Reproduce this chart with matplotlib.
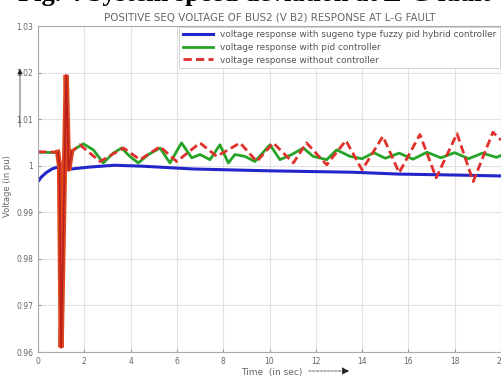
import matplotlib.pyplot as plt

# values
t_blue = [0, 0.15, 0.35, 0.6, 0.9, 1.05, 1.2, 1.45, 2.2, 3.3, 4.5, 6.7, 10, 13.6, 15.6, 18, 20]
v_blue = [0.9966, 0.9976, 0.9985, 0.9993, 0.9998, 0.9997, 0.9993, 0.9993, 0.9997, 1.0001,
          0.9999, 0.9993, 0.9989, 0.9986, 0.9982, 0.9980, 0.9978]

t_green = [0, 0.9, 1.0, 1.18, 1.3, 1.53, 1.96, 2.39, 2.82, 3.25, 3.61, 3.97, 4.33, 4.77, 5.27,
           5.7, 6.2, 6.64, 7.0, 7.43, 7.86, 8.22, 8.51, 8.94, 9.37, 10.02, 10.45, 10.96, 11.46,
           11.89, 12.47, 12.9, 13.48, 14.0, 14.5, 15.0, 15.6, 16.2, 16.8, 17.4, 18.0, 18.6,
           19.2, 19.8, 20]
v_green = [1.0029, 1.0028, 0.978, 1.012, 1.001, 1.0034, 1.0047, 1.0034, 1.0006, 1.0027, 1.0038,
           1.0020, 1.0006, 1.0024, 1.0038, 1.0006, 1.0049, 1.0017, 1.0024, 1.0013, 1.0045,
           1.0006, 1.0024, 1.0020, 1.0009, 1.0045, 1.0013, 1.0024, 1.0038, 1.0020, 1.0013,
           1.0034, 1.0020, 1.0015, 1.0028, 1.0016, 1.0027, 1.0014, 1.0029, 1.0017, 1.0028,
           1.0015, 1.0027, 1.0018, 1.0022]

t_red = [0, 0.85, 0.93, 1.0, 1.22, 1.32, 1.45, 1.81, 2.68, 3.69, 4.41, 5.27, 5.99, 7.0, 7.72,
         8.73, 9.45, 10.16, 11.03, 11.6, 12.47, 13.3, 14.0, 14.9, 15.6, 16.5, 17.2, 18.1,
         18.8, 19.65, 20]
v_red = [1.0030, 1.0029, 1.0000, 0.9610, 1.0195, 0.9990, 1.0030, 1.0045, 1.0009, 1.0038,
         1.0013, 1.0041, 1.0009, 1.0049, 1.0020, 1.0049, 1.0009, 1.0049, 1.0006, 1.0049,
         1.0002, 1.0054, 0.9991, 1.0063, 0.9985, 1.0067, 0.9974, 1.0069, 0.9966, 1.0072,
         1.0055]
fault_idx = (1, 7)  # part of the red series drawn solid (dense fault oscillation)

labels = ['voltage response with sugeno type fuzzy pid hybrid controller',
          'voltage response with pid controller',
          'voltage response without controller']
x_ticks = list(range(0, 21, 2))
y_ticks = [0.96, 0.97, 0.98, 0.99, 1.0, 1.01, 1.02, 1.03]
y_ticklabels = ['0.96', '0.97', '0.98', '0.99', '1', '1.01', '1.02', '1.03']

W, H = 502, 382
fig = plt.figure(figsize=(W / 100, H / 100), dpi=100)
ax = fig.add_axes([38 / W, 1 - 352 / H, (501 - 38) / W, (352 - 26) / H])

red = '#e0302c'
ax.plot(t_blue, v_blue, color='#2326c8', lw=2.2, label=labels[0])
ax.plot(t_green, v_green, color='#27a327', lw=2, label=labels[1])
ax.plot(t_red, v_red, color=red, lw=2, ls=(0, (3, 1.5)), label=labels[2])
a, b = fault_idx
ax.plot(t_red[a:b], v_red[a:b], color='#e0461e', lw=3.8, solid_joinstyle='miter')
ax.plot(t_red[a:b], v_red[a:b], color='#b81f1f', lw=1.2)

ax.set_xlim(0, 20)
ax.set_ylim(0.96, 1.03)
ax.set_xticks(x_ticks)
ax.set_yticks(y_ticks)
ax.set_yticklabels(y_ticklabels)
ax.grid(True, color='#e2e2e2', lw=0.8)
ax.tick_params(labelsize=5.5, labelcolor='#666666', color='#999999', direction='in', length=2)
for s in ax.spines.values():
    s.set_color('#aaaaaa')
    s.set_linewidth(0.8)

ax.set_title('POSITIVE SEQ VOLTAGE OF BUS2 (V B2) RESPONSE AT L-G FAULT',
             fontsize=7.4, color='#666666', pad=4)

leg = ax.legend(loc='upper right', fontsize=6.4, handlelength=3.4, handletextpad=0.8,
                labelspacing=0.4, borderaxespad=0.1, fancybox=False, framealpha=1,
                edgecolor='#cccccc', labelcolor='#555555')
leg.get_frame().set_linewidth(0.6)

# axis labels with arrows, in figure pixels
fig.text(8 / W, 1 - 186 / H, 'Voltage (in pu)', rotation=90, fontsize=6,
         color='#666666', ha='center', va='center')
ax.annotate('', xy=(20 / W, 1 - 66 / H), xytext=(20 / W, 1 - 130 / H),
            xycoords='figure fraction', textcoords='figure fraction',
            arrowprops=dict(arrowstyle='-|>', color='#222222', lw=0.5, mutation_scale=8))
fig.text(272 / W, 1 - 372 / H, 'Time  (in sec)', fontsize=6.5, color='#666666',
         ha='center', va='center')
ax.annotate('', xy=(352 / W, 1 - 371 / H), xytext=(306 / W, 1 - 371 / H),
            xycoords='figure fraction', textcoords='figure fraction',
            arrowprops=dict(arrowstyle='-|>', color='#222222', lw=0.5, ls='--',
                            mutation_scale=11))

# caption of the page, cut off at the top edge
fig.text(18 / W, 1 - 1 / H, 'Fig. 4 System speed deviation at L-G fault',
         fontsize=19, weight='bold', family='Liberation Serif', ha='left', va='baseline')

fig.savefig('out.png', dpi=100)
